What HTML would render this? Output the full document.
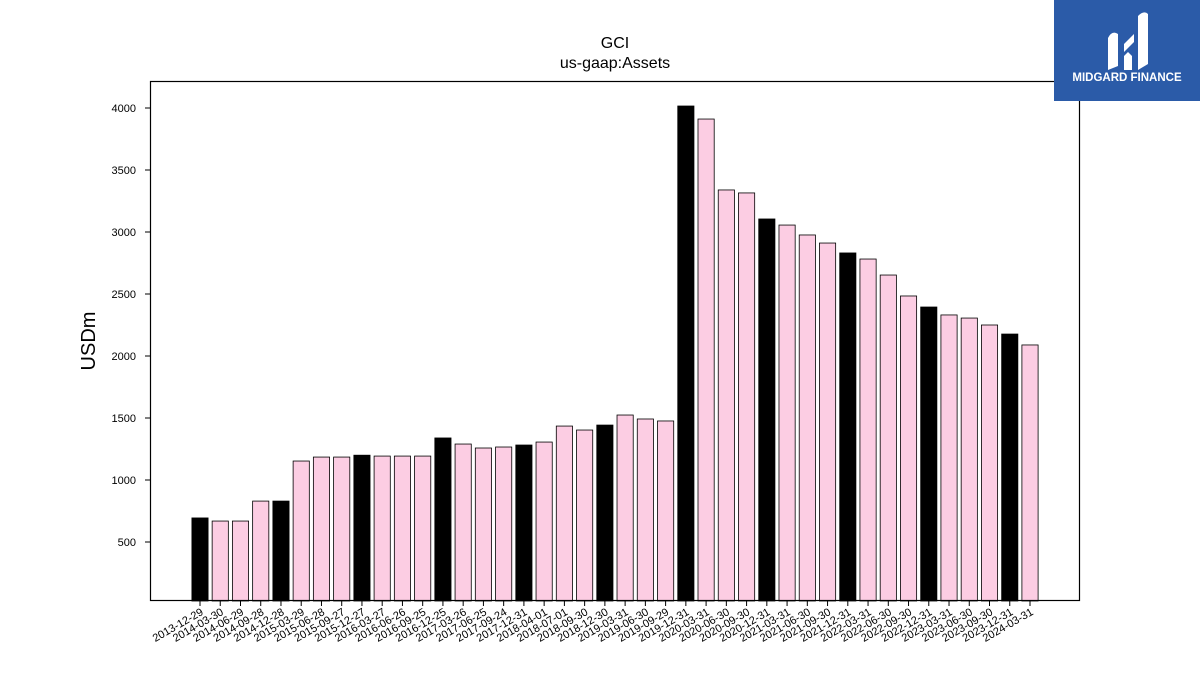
<!DOCTYPE html>
<html><head><meta charset="utf-8"><style>
body{margin:0;background:#fff;font-family:"Liberation Sans","DejaVu Sans",sans-serif}
</style></head><body>
<svg width="1200" height="675" viewBox="0 0 1200 675" xmlns="http://www.w3.org/2000/svg">
<text x="615" y="48" font-size="16" text-anchor="middle">GCI</text>
<text x="615" y="68" font-size="16" text-anchor="middle">us-gaap:Assets</text>
<text transform="translate(95,341) rotate(-90)" font-size="20" text-anchor="middle">USDm</text>
<g id="bars"></g><g id="yt"></g><g id="xt"></g>
<rect x="150.5" y="81.5" width="929" height="519" fill="none" stroke="#000" stroke-width="1.2"/>
<g>
<rect x="1054" y="0" width="146" height="101" fill="#2b5ba8"/>
<path d="M1108 70 L1108 38 Q1112 30 1118 34 L1118 66 Z M1124 44 L1134 34 L1134 42 L1124 52 Z M1138 70 L1138 16 Q1144 10 1148 14 L1148 64 Z M1124 56 L1128 52 L1132 56 L1132 70 L1124 70 Z" fill="#fff"/>
<text x="1127" y="81" font-size="11.5" font-weight="bold" fill="#fff" text-anchor="middle">MIDGARD FINANCE</text>
</g>
</svg>
<script>
const categories=["2013-12-29","2014-03-30","2014-06-29","2014-09-28","2014-12-28","2015-03-29","2015-06-28","2015-09-27","2015-12-27","2016-03-27","2016-06-26","2016-09-25","2016-12-25","2017-03-26","2017-06-25","2017-09-24","2017-12-31","2018-04-01","2018-07-01","2018-09-30","2018-12-30","2019-03-31","2019-06-30","2019-09-29","2019-12-31","2020-03-31","2020-06-30","2020-09-30","2020-12-31","2021-03-31","2021-06-30","2021-09-30","2021-12-31","2022-03-31","2022-06-30","2022-09-30","2022-12-31","2023-03-31","2023-06-30","2023-09-30","2023-12-31","2024-03-31"];
const values=[694,669,669,830,830,1153,1185,1185,1200,1193,1193,1193,1339,1290,1258,1266,1282,1306,1435,1403,1443,1524,1492,1476,4016,3911,3339,3315,3105,3056,2976,2911,2831,2782,2653,2484,2395,2331,2306,2250,2177,2089];
const yTicks=[500,1000,1500,2000,2500,3000,3500,4000];
const NS="http://www.w3.org/2000/svg";
const y=v=>604-v*0.124;
const x=i=>200+i*(830/(categories.length-1));
const bars=document.getElementById('bars'),yt=document.getElementById('yt'),xt=document.getElementById('xt');
function mk(t,a){const e=document.createElementNS(NS,t);for(const k in a)e.setAttribute(k,a[k]);return e;}
values.forEach((v,i)=>{
 const r=mk('rect',{x:x(i)-8.1,y:y(v),width:16.2,height:Math.max(0,601-y(v)),fill:i%4===0?'#000':'#fccde3',stroke:'#000','stroke-width':0.8});
 
 
 bars.appendChild(r);
 const tk=mk('line',{x1:x(i),x2:x(i),y1:601,y2:606,stroke:'#000'});
 
 
 xt.appendChild(tk);
 const t=mk('text',{x:x(i)+4,y:614,'font-size':11,'text-anchor':'end',transform:'rotate(-30 '+(x(i)+4)+' 614)'});
 
 
 t.textContent=categories[i];xt.appendChild(t);
});
yTicks.forEach(v=>{
 const tk=mk('line',{x1:145,x2:150,y1:y(v),y2:y(v),stroke:'#000'});
 
 
 yt.appendChild(tk);
 const t=mk('text',{x:136,y:y(v)+4,'font-size':11,'text-anchor':'end'});
 
 
 t.textContent=v;yt.appendChild(t);
});
</script>
</body></html>
